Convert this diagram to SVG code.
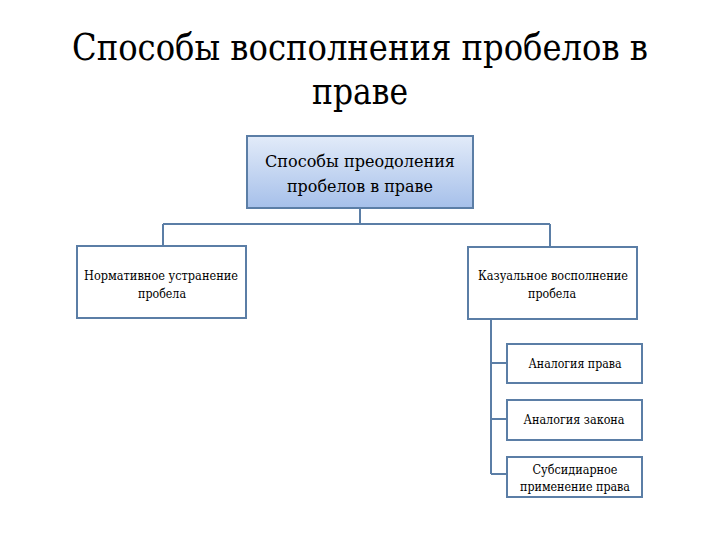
<svg xmlns="http://www.w3.org/2000/svg" width="720" height="540" viewBox="0 0 720 540">
<defs>
<linearGradient id="g" x1="0" y1="0" x2="0" y2="1">
<stop offset="0" stop-color="#e2ebf9"/>
<stop offset="1" stop-color="#a6c0ea"/>
</linearGradient>
<style>
.box{fill:#ffffff;stroke:#5b7ea6;stroke-width:2}
.top{fill:url(#g);stroke:#5b7ea6;stroke-width:2}
.conn{stroke:#5b7ea6;stroke-width:2;fill:none}
</style>
</defs>
<rect width="720" height="540" fill="#ffffff"/>
<g font-family="'DejaVu Serif', 'Liberation Serif', serif" text-anchor="middle" fill="#000" lengthAdjust="spacingAndGlyphs">
<g id="title">
<text x="360" y="60" font-size="37" textLength="576" lengthAdjust="spacingAndGlyphs">Способы восполнения пробелов в</text>
<text x="360" y="104" font-size="37" textLength="96" lengthAdjust="spacingAndGlyphs">праве</text>
</g>
<g id="connectors">
<path class="conn" d="M360 208V224M163 224H550M163 224V246M550 224V246"/>
<path class="conn" d="M491 319V474M491 363H507M491 419H507M491 474H507"/>
</g>
<g id="n-root">
<rect class="top" x="247" y="136" width="226" height="72"/>
<text x="360" y="167" font-size="16.5" textLength="190" lengthAdjust="spacingAndGlyphs">Способы преодоления</text>
<text x="360" y="192" font-size="16.5" textLength="146" lengthAdjust="spacingAndGlyphs">пробелов в праве</text>
</g>
<g id="n-norm">
<rect class="box" x="77" y="246" width="169" height="72"/>
<text x="161" y="280" font-size="12" textLength="154" lengthAdjust="spacingAndGlyphs">Нормативное устранение</text>
<text x="162" y="298" font-size="12" textLength="48" lengthAdjust="spacingAndGlyphs">пробела</text>
</g>
<g id="n-kaz">
<rect class="box" x="468" y="247" width="169" height="72"/>
<text x="553" y="280" font-size="12" textLength="150" lengthAdjust="spacingAndGlyphs">Казуальное восполнение</text>
<text x="552" y="298" font-size="12" textLength="48" lengthAdjust="spacingAndGlyphs">пробела</text>
</g>
<g id="n-an-prava">
<rect class="box" x="507" y="344" width="135" height="39"/>
<text x="575" y="368" font-size="12" textLength="93" lengthAdjust="spacingAndGlyphs">Аналогия права</text>
</g>
<g id="n-an-zakona">
<rect class="box" x="507" y="400" width="135" height="40"/>
<text x="574" y="424" font-size="12" textLength="101" lengthAdjust="spacingAndGlyphs">Аналогия закона</text>
</g>
<g id="n-subs">
<rect class="box" x="507" y="457" width="135" height="40"/>
<text x="575" y="474" font-size="12" textLength="85" lengthAdjust="spacingAndGlyphs">Субсидиарное</text>
<text x="575" y="491" font-size="12" textLength="110" lengthAdjust="spacingAndGlyphs">применение права</text>
</g>
</g>
</svg>
